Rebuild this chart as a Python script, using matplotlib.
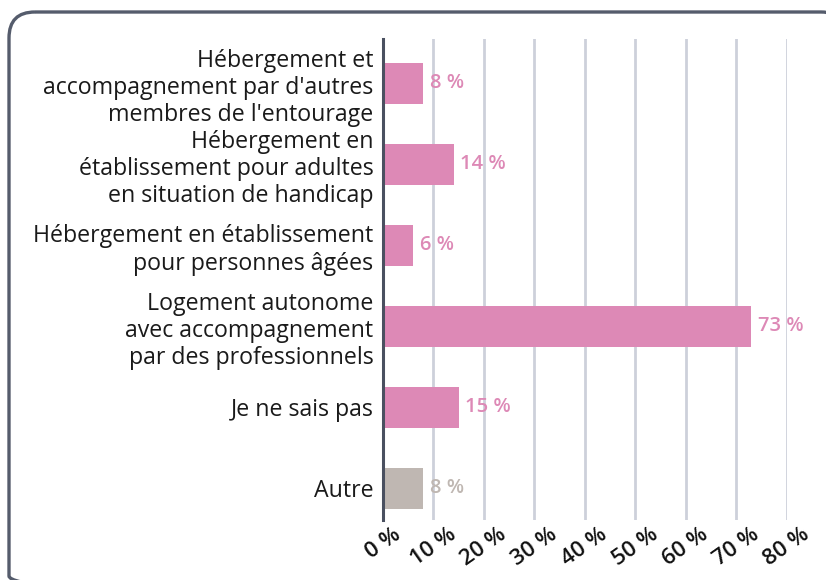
import matplotlib.pyplot as plt
from matplotlib.patches import FancyBboxPatch

plt.rcParams["font.family"] = ["Open Sans", "DejaVu Sans"]

CATEGORIES = [
    "Hébergement et\naccompagnement par d'autres\nmembres de l'entourage",
    "Hébergement en\nétablissement pour adultes\nen situation de handicap",
    "Hébergement en établissement\npour personnes âgées",
    "Logement autonome\navec accompagnement\npar des professionnels",
    "Je ne sais pas",
    "Autre",
]
VALUES = [8, 14, 6, 73, 15, 8]
TICKS = [0, 10, 20, 30, 40, 50, 60, 70, 80]

PINK = "#dd89b6"
GREY = "#bfb7b2"
colors = [PINK] * 5 + [GREY]

W, H = 826, 580
fig = plt.figure(figsize=(W / 100, H / 100), dpi=100)

# background axes in pixel units for the rounded frame
bg = fig.add_axes([0, 0, 1, 1])
bg.set_xlim(0, W)
bg.set_ylim(H, 0)
bg.axis("off")
frame = FancyBboxPatch(
    (9, 12), 838, 590,
    boxstyle="round,pad=0,rounding_size=26",
    facecolor="none", edgecolor="#555c6c", linewidth=2.4,
)
bg.add_patch(frame)

ax = fig.add_axes([383 / W, 1 - 520 / H, (786.7 - 383) / W, (520 - 39) / H])
ypos = list(range(len(CATEGORIES)))
ax.barh(ypos, VALUES, height=0.51, color=colors, zorder=3)
for y, v, c in zip(ypos, VALUES, colors):
    ax.text(v + 1.3, y, f"{v} %", va="center", ha="left", color=c,
            fontsize=14.5, fontweight="semibold", zorder=4)

ax.set_xlim(0, 80)
ax.set_ylim(5.39, -0.546)
ax.set_yticks(ypos)
ax.set_yticklabels(CATEGORIES, fontsize=16.7, color="#1a1a1a", linespacing=1.18)
ax.set_xticks(TICKS)
ax.set_xticklabels([f"{t} %" for t in TICKS], rotation=35, ha="center",
                   fontsize=16, fontweight="semibold", color="#111111")
ax.tick_params(axis="y", length=0, pad=7)
ax.tick_params(axis="x", length=0, pad=3)
ax.grid(axis="x", color="#cdd0da", linewidth=2, zorder=0)
for side in ["top", "right", "bottom"]:
    ax.spines[side].set_visible(False)
ax.spines["left"].set_color("#4a5060")
ax.spines["left"].set_linewidth(2.2)
ax.spines["left"].set_zorder(5)

fig.savefig("out.png", dpi=100)
